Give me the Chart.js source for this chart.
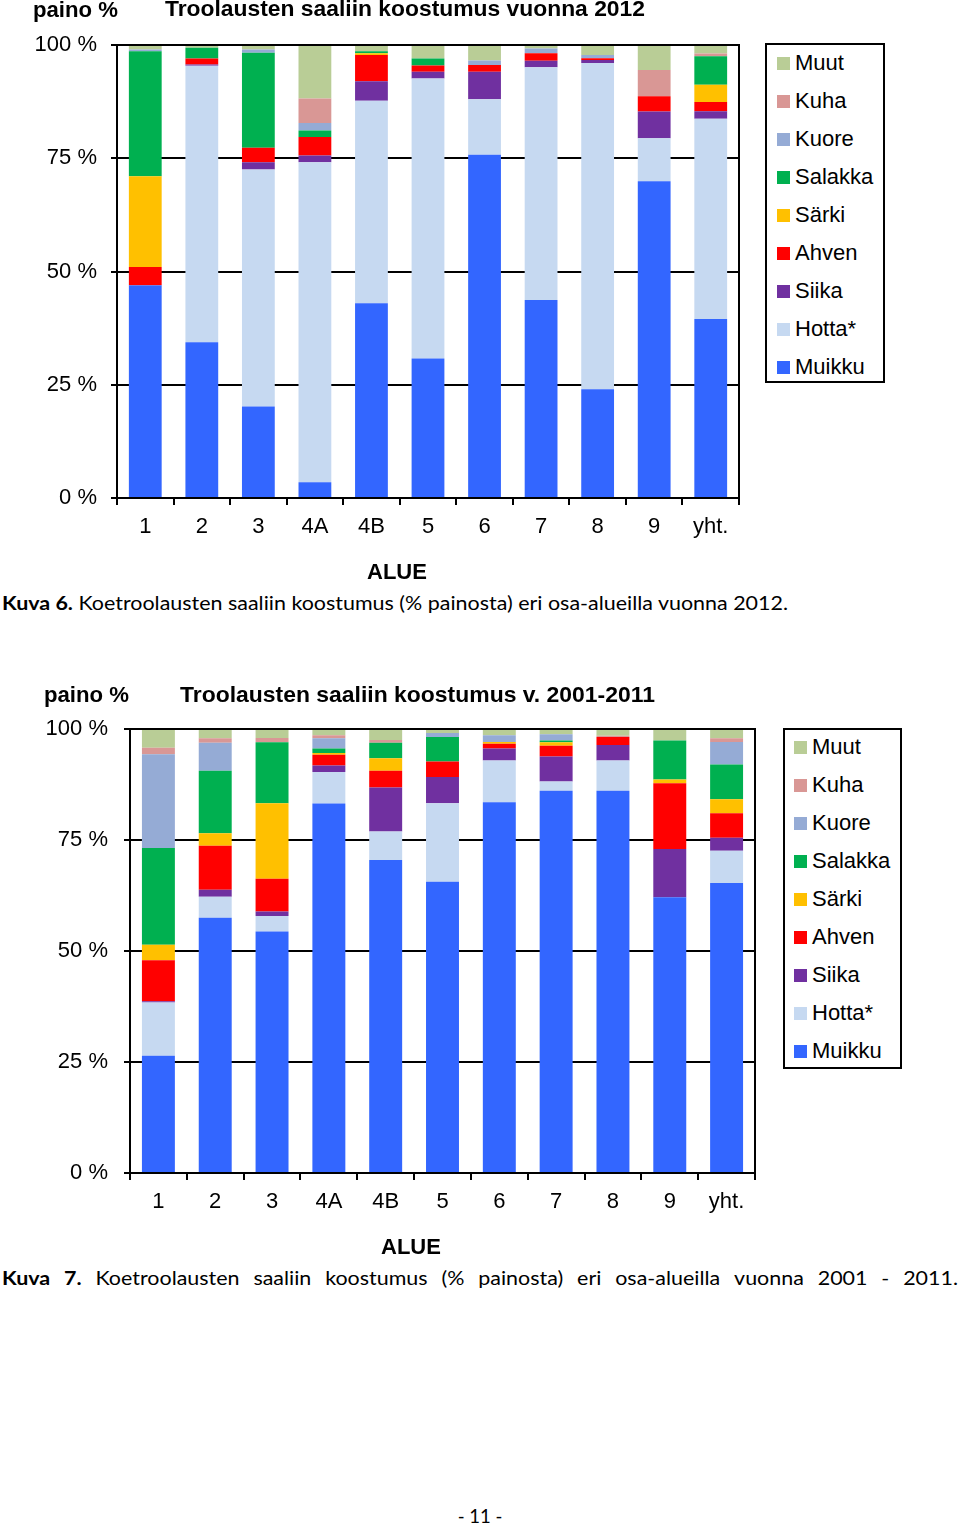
<!DOCTYPE html>
<html>
<head>
<meta charset="utf-8">
<script src="https://cdn.jsdelivr.net/npm/chart.js@4.4.1/dist/chart.umd.min.js"></script>
<style>
  html,body{margin:0;padding:0;background:#fff;}
  body{width:960px;height:1526px;position:relative;overflow:hidden;color:#000;font-family:"Liberation Sans",Arial,sans-serif;}
  canvas{position:absolute;left:0;}
  .t{position:absolute;white-space:nowrap;line-height:1;transform-origin:0 0;}
  .b{font-weight:bold;}
  .legend{position:absolute;border:2px solid #000;box-sizing:border-box;background:#fff;}
  .cap{font-family:Lato,"Open Sans",sans-serif;}
  .just{position:absolute;display:flex;justify-content:space-between;white-space:nowrap;line-height:1;transform-origin:0 0;font-family:Lato,"Open Sans",sans-serif;}
</style>
</head>
<body>
<canvas id="c1" width="960" height="560" style="top:0px"></canvas>
<canvas id="c2" width="960" height="600" style="top:640px"></canvas>
<div id="overlay"></div>
<script>
// ---------- data ----------
const categories = ['1','2','3','4A','4B','5','6','7','8','9','yht.'];
const seriesNames = ['Muikku','Hotta*','Siika','Ahven','Särki','Salakka','Kuore','Kuha','Muut'];
const seriesColors = ['#3366FF','#C6D9F1','#7030A0','#FF0000','#FFC000','#00B050','#95ABD5','#D99795','#B9CD96'];
const yTicks = [0,25,50,75,100];

// Kuva 6: 2012 (% painosta)
const muikku2012  = [46.9,34.4,20.2, 3.5,43.0,30.8,75.8,43.7,24.0,69.9,39.5];
const hotta2012   = [ 0.0,61.0,52.3,70.6,44.7,61.8,12.2,51.4,72.0, 9.5,44.2];
const siika2012   = [ 0.1, 0.3, 1.6, 1.5, 4.3, 1.5, 6.1, 1.4, 0.7, 5.9, 1.7];
const ahven2012   = [ 4.0, 1.3, 3.2, 4.1, 5.8, 1.4, 1.5, 1.7, 0.4, 3.4, 2.0];
const sarki2012   = [20.0, 0.0, 0.0, 0.0, 0.4, 0.0, 0.0, 0.0, 0.0, 0.0, 3.8];
const salakka2012 = [27.6, 2.4,21.0, 1.4, 0.4, 1.5, 0.0, 0.0, 0.0, 0.0, 6.3];
const kuore2012   = [ 0.4, 0.0, 0.7, 1.7, 0.0, 0.0, 1.0, 1.0, 0.7, 0.0, 0.0];
const kuha2012    = [ 0.0, 0.0, 0.0, 5.4, 0.0, 0.0, 0.0, 0.0, 0.0, 5.8, 0.6];
const muut2012    = [ 1.0, 0.7, 1.0,11.8, 1.5, 3.1, 3.5, 0.8, 2.2, 5.6, 2.0];

// Kuva 7: 2001-2011 (% painosta)
const muikku0111  = [26.4,57.5,54.4,83.2,70.5,65.6,83.5,86.1,86.1,62.1,65.3];
const hotta0111   = [12.0, 4.7, 3.5, 7.1, 6.4,17.7, 9.4, 2.1, 6.8, 0.0, 7.3];
const siika0111   = [ 0.3, 1.6, 1.0, 1.5, 9.9, 5.9, 2.7, 5.6, 3.5,10.9, 2.9];
const ahven0111   = [ 9.2, 9.9, 7.4, 2.4, 3.8, 3.5, 1.1, 2.4, 1.8,14.8, 5.5];
const sarki0111   = [ 3.5, 2.8,17.0, 0.4, 2.8, 0.0, 0.4, 0.8, 0.0, 0.8, 3.2];
const salakka0111 = [21.8,14.1,13.7, 1.0, 3.5, 5.5, 0.0, 0.4, 0.0, 8.8, 7.8];
const kuore0111   = [21.1, 6.3, 0.0, 2.3, 0.0, 0.9, 1.5, 1.4, 0.0, 0.0, 5.1];
const kuha0111    = [ 1.5, 1.0, 1.0, 0.7, 0.6, 0.0, 0.0, 0.0, 0.3, 0.0, 0.8];
const muut0111    = [ 4.1, 2.0, 2.0, 1.5, 2.4, 0.9, 1.4, 1.3, 1.5, 2.6, 2.0];

const data2012 = [muikku2012,hotta2012,siika2012,ahven2012,sarki2012,salakka2012,kuore2012,kuha2012,muut2012];
const data0111 = [muikku0111,hotta0111,siika0111,ahven0111,sarki0111,salakka0111,kuore0111,kuha0111,muut0111];

// ---------- charts ----------
Chart.defaults.font.family = '"Liberation Sans", Arial, sans-serif';
Chart.defaults.font.size = 22;
Chart.defaults.color = '#000';

const framePlugin = {
  id:'frame',
  afterDatasetsDraw(c){
    const a=c.chartArea, ctx=c.ctx;
    ctx.save();
    ctx.strokeStyle='#000'; ctx.lineWidth=2;
    ctx.beginPath();
    ctx.moveTo(a.left,a.top); ctx.lineTo(a.right,a.top); ctx.lineTo(a.right,a.bottom);
    ctx.stroke();
    ctx.restore();
  }
};

function makeChart(id, arrays, g){
  return new Chart(document.getElementById(id), {
    type:'bar',
    data:{
      labels:categories,
      datasets:seriesNames.map((n,i)=>({
        label:n, data:arrays[i], backgroundColor:seriesColors[i],
        borderWidth:0, categoryPercentage:1, barPercentage:0.58
      }))
    },
    options:{
      responsive:false, animation:false, devicePixelRatio:1,
      layout:{padding:{left:0,top:g.top,right:g.right,bottom:g.bottom}},
      plugins:{legend:{display:false},tooltip:{enabled:false},title:{display:false}},
      scales:{
        x:{
          stacked:true,
          grid:{display:true,drawOnChartArea:false,drawTicks:true,tickLength:7,color:'#000',lineWidth:2},
          border:{display:true,color:'#000',width:2},
          ticks:{color:'#000',font:{size:22},padding:9,maxRotation:0,autoSkip:false},
          afterFit(s){ s.height = 40; }
        },
        y:{
          stacked:true, min:0, max:100,
          afterBuildTicks(s){ s.ticks = yTicks.map(v=>({value:v})); },
          ticks:{color:'#000',font:{size:22},padding:g.tpad,callback:v=>v+' %'},
          grid:{color:'#000',lineWidth:2,tickLength:6},
          border:{display:true,color:'#000',width:2},
          afterFit(s){ s.width = g.left; }
        }
      }
    },
    plugins:[framePlugin]
  });
}

makeChart('c1', data2012, {left:117, top:45, right:221, bottom:560-498-40, tpad:14});
makeChart('c2', data0111, {left:130, top:89, right:205, bottom:600-533-40, tpad:16});

// ---------- text overlay ----------
const ov = document.getElementById('overlay');
const ASC_LIB = 0.8465, ASC_LATO = 0.887;
function txt(s, x, baseline, size, opts={}){
  const d=document.createElement('div');
  d.className='t'+(opts.bold?' b':'')+(opts.cap?' cap':'');
  d.style.fontSize=size+'px';
  d.textContent=s;
  ov.appendChild(d);
  const asc = opts.cap?ASC_LATO:ASC_LIB;
  d.style.top=(baseline-asc*size)+'px';
  let w=d.getBoundingClientRect().width;
  if(opts.width){ d.style.transform='scaleX('+(opts.width/w)+')'; w=opts.width; }
  if(opts.center){ d.style.left=(x-w/2)+'px'; } else d.style.left=x+'px';
  return d;
}
function richCaption(parts, x, baseline, size, width){
  const d=document.createElement('div');
  d.className='t cap'; d.style.fontSize=size+'px';
  parts.forEach(p=>{const s=document.createElement('span'); s.textContent=p[0]; if(p[1]) s.style.fontWeight='bold'; d.appendChild(s);});
  ov.appendChild(d);
  d.style.top=(baseline-ASC_LATO*size)+'px'; d.style.left=x+'px';
  const w=d.getBoundingClientRect().width;
  const sx=width/w;
  d.style.transform='scaleX('+sx+')';
  return sx;
}
function justCaption(words, boldCount, x, baseline, size, width, sx){
  const d=document.createElement('div');
  d.className='just'; d.style.fontSize=size+'px'; d.style.width=(width/sx)+'px';
  words.forEach((w,i)=>{const s=document.createElement('span'); s.textContent=w; if(i<boldCount) s.style.fontWeight='bold'; d.appendChild(s);});
  ov.appendChild(d);
  d.style.top=(baseline-ASC_LATO*size)+'px'; d.style.left=x+'px';
  d.style.transform='scaleX('+sx+')';
}
function legend(x,y,w,h,mx,tx,firstCenter){
  const box=document.createElement('div');
  box.className='legend';
  Object.assign(box.style,{left:x+'px',top:y+'px',width:w+'px',height:h+'px'});
  ov.appendChild(box);
  const order=[...seriesNames.keys()].reverse();
  order.forEach((si,k)=>{
    const c=firstCenter+38*k;
    const m=document.createElement('div');
    Object.assign(m.style,{position:'absolute',left:mx+'px',top:(c-6.5)+'px',width:'13px',height:'13px',background:seriesColors[si]});
    ov.appendChild(m);
    txt(seriesNames[si], tx, c+8, 22);
  });
}

// Chart 1
txt('paino %', 33, 18, 22, {bold:true, width:85});
txt('Troolausten saaliin koostumus vuonna 2012', 165, 17, 22, {bold:true, width:480});
txt('ALUE', 397, 580, 22, {bold:true, center:true});
legend(765, 43, 120, 340, 777, 795, 63);
const capScale = richCaption([['Kuva 6.',true],[' Koetroolausten saaliin koostumus (% painosta) eri osa-alueilla vuonna 2012.',false]], 2, 610, 18.5, 786);

// Chart 2
txt('paino %', 44, 703, 22, {bold:true, width:85});
txt('Troolausten saaliin koostumus v. 2001-2011', 180, 703, 22, {bold:true, width:475});
txt('ALUE', 411, 1255, 22, {bold:true, center:true});
legend(783, 728, 119, 341, 794, 812, 747);
justCaption(['Kuva','7.','Koetroolausten','saaliin','koostumus','(%','painosta)','eri','osa-alueilla','vuonna','2001','-','2011.'], 2, 2, 1285, 18.5, 956, capScale);

txt('- 11 -', 480, 1523, 18.5, {cap:true, center:true});
</script>
</body>
</html>
